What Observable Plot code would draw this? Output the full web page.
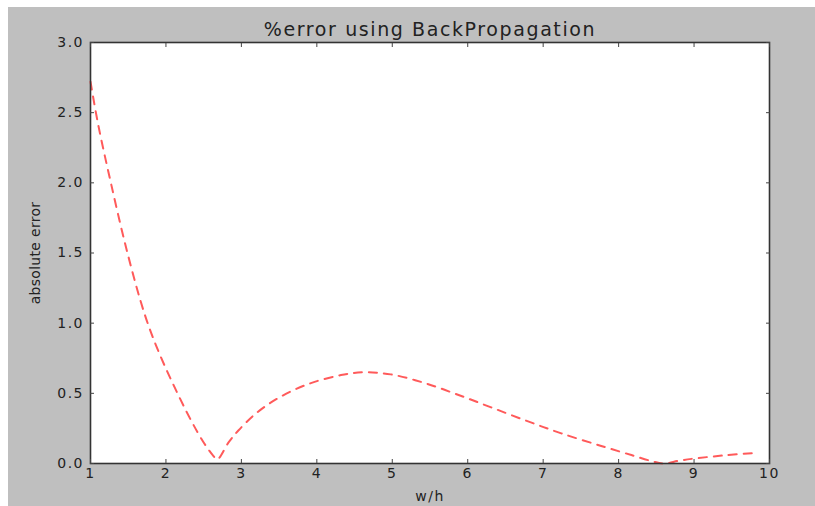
<!DOCTYPE html>
<html><head><meta charset="utf-8">
<script src="https://cdn.jsdelivr.net/npm/d3@7"></script>
<script src="https://cdn.jsdelivr.net/npm/@observablehq/plot@0.6"></script>
<style>
html,body{margin:0;padding:0;background:#fff;}
#chart{position:absolute;left:8px;top:7px;}
#chart svg{display:block;background:#bfbfbf;}
#chart svg text{letter-spacing:1.5px;}
</style></head><body><div id="chart"></div>
<script>
const titleText = ["%error using BackPropagation"];
const xLabel = "w/h";
const yLabel = "absolute error";
const xTicks = [1, 2, 3, 4, 5, 6, 7, 8, 9, 10];
const yTicks = [0, 0.5, 1.0, 1.5, 2.0, 2.5, 3.0];
const wh = [1.0, 1.1, 1.27, 1.49, 1.72, 1.9, 2.1, 2.33, 2.5, 2.62, 2.68, 2.83, 2.96, 3.2, 3.5, 3.88, 4.32, 4.62, 4.98, 5.42, 5.87, 6.31, 6.8, 7.24, 7.77, 8.17, 8.45, 8.6, 8.8, 9.0, 9.4, 9.8];
const absErr = [2.72, 2.42, 2.0, 1.5, 1.06, 0.8, 0.56, 0.31, 0.15, 0.06, 0.03, 0.15, 0.235, 0.36, 0.47, 0.565, 0.63, 0.65, 0.635, 0.575, 0.49, 0.40, 0.30, 0.215, 0.125, 0.06, 0.015, 0.0, 0.02, 0.035, 0.058, 0.075];

const data = wh.map((x, i) => ({x, y: absErr[i]}));

const plot = Plot.plot({
  width: 807, height: 499,
  marginLeft: 82, marginTop: 35, marginRight: 46, marginBottom: 43,
  style: {fontFamily: "DejaVu Sans", fontSize: "14px", color: "#222", background: "#bfbfbf"},
  x: {domain: [1, 10]},
  y: {domain: [0, 3]},
  marks: [
    Plot.frame({fill: "white", stroke: "none"}),
    Plot.line(data, {x: "x", y: "y", stroke: "#ff5a5a", strokeWidth: 2, strokeDasharray: "8,7", curve: "catmull-rom"}),
    Plot.frame({stroke: "#333", strokeWidth: 1.6}),
    Plot.axisX({ticks: xTicks, tickSize: -4, tickPadding: 9, stroke: "#444", label: xLabel, labelAnchor: "center", labelArrow: "none", labelOffset: 37}),
    Plot.axisX({anchor: "top", ticks: xTicks, tickSize: -4, stroke: "#444", fill: "none", label: null}),
    Plot.axisY({ticks: yTicks, tickFormat: ".1f", tickSize: -4, tickPadding: 10.5, stroke: "#444", label: yLabel, labelAnchor: "center", labelArrow: "none", labelOffset: 60}),
    Plot.axisY({anchor: "right", ticks: yTicks, tickSize: -4, stroke: "#444", fill: "none", label: null}),
    Plot.text(titleText, {frameAnchor: "top", text: d => d, dy: -7, lineAnchor: "bottom", fontSize: 19, fill: "#222"})
  ]
});
plot.querySelectorAll('g[aria-label="text"] text').forEach(t => t.style.letterSpacing = "1.6px");
plot.querySelectorAll('g[aria-label="y-axis label"] text').forEach(t => t.style.letterSpacing = "0.3px");
document.getElementById("chart").appendChild(plot);
</script></body></html>
